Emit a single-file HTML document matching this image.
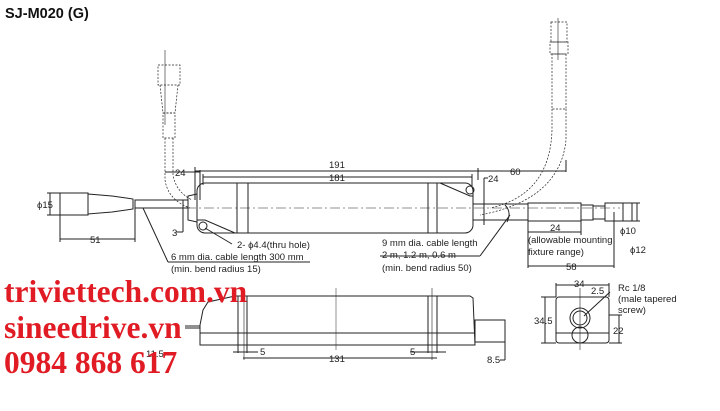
<!DOCTYPE html>
<html><head><meta charset="utf-8"><style>
body{margin:0;background:#fff;width:720px;height:406px;overflow:hidden}
svg text{font-family:"Liberation Sans",sans-serif;font-size:9.5px;fill:#222}
.w{font-family:"Liberation Serif",serif;font-weight:bold;fill:#e01b24;font-size:31.5px}
</style></head><body>
<svg width="720" height="406" viewBox="0 0 720 406" xmlns="http://www.w3.org/2000/svg">
<g stroke="#222" stroke-width="1" fill="none">
<rect x="197" y="183" width="276" height="50" rx="8"/>
<line x1="237" y1="183" x2="237" y2="233"/><line x1="248" y1="183" x2="248" y2="233"/>
<line x1="428" y1="183" x2="428" y2="233"/><line x1="437" y1="183" x2="437" y2="233"/>
<path d="M440 183 L470 196 L473 196"/><circle cx="470" cy="190" r="4"/>
<path d="M197 220 L205 220 L235 233"/><circle cx="203" cy="226" r="4"/>
<line x1="150" y1="208" x2="620" y2="208" stroke-dasharray="10 3 2 3" stroke-width="0.6"/>
<path d="M188 196 L197 194 L197 222 L188 220 Z"/>
<rect x="135" y="200" width="53" height="8"/>
<path d="M88 194 L112 196 L133 199 L133 209 L112 212 L88 214 Z"/>
<rect x="60" y="193" width="28" height="22"/>
<line x1="47" y1="193" x2="60" y2="193"/><line x1="47" y1="215" x2="60" y2="215"/>
<line x1="50" y1="193" x2="50" y2="215"/>
<line x1="60" y1="215" x2="60" y2="242"/><line x1="135" y1="208" x2="135" y2="242"/>
<line x1="60" y1="239" x2="135" y2="239"/>
<line x1="183" y1="200" x2="183" y2="232"/><line x1="176" y1="232" x2="183" y2="232"/>
<line x1="143" y1="208" x2="168" y2="262"/><line x1="168" y1="262" x2="310" y2="262"/>
<line x1="205" y1="228" x2="232" y2="244"/>
<g stroke-dasharray="2 1.5" stroke-width="0.7">
<rect x="158" y="65" width="22" height="20"/><path d="M160 85 L163 113 L175 113 L178 85"/>
<rect x="163" y="113" width="12" height="25"/>
<path d="M165 138 L165 180 Q168 200 190 208"/><path d="M173 138 L173 175 Q176 192 192 200"/>
<rect x="551" y="22" width="16" height="20"/><rect x="550" y="42" width="18" height="12"/>
<rect x="552" y="54" width="14" height="55"/>
<path d="M552 109 L552 130 Q550 195 490 208"/><path d="M566 109 L566 140 Q560 200 480 215"/>
</g>
<line x1="165" y1="50" x2="165" y2="125" stroke-width="0.6"/>
<line x1="558" y1="18" x2="558" y2="60" stroke-width="0.6"/>
<line x1="165" y1="172" x2="200" y2="172"/>
<line x1="195" y1="167" x2="195" y2="200"/><line x1="200" y1="170" x2="200" y2="200"/>
<line x1="195" y1="171" x2="566" y2="171"/><line x1="566" y1="160" x2="566" y2="172"/>
<line x1="203" y1="177" x2="472" y2="177"/><line x1="203" y1="174" x2="203" y2="185"/>
<line x1="472" y1="174" x2="472" y2="186"/><line x1="478" y1="168" x2="478" y2="180"/>
<line x1="484" y1="178" x2="484" y2="225"/><line x1="484" y1="178" x2="488" y2="178"/>
<rect x="473" y="204" width="55" height="16"/>
<path d="M505 205 Q512 212 507 222" />
<rect x="528" y="203" width="53" height="18"/>
<rect x="581" y="205" width="12" height="15"/>
<rect x="593" y="206" width="12" height="13"/><rect x="605" y="203" width="18" height="18"/>
<line x1="623" y1="203" x2="640" y2="203"/><line x1="623" y1="221" x2="640" y2="221"/>
<line x1="632" y1="203" x2="632" y2="221"/><line x1="637" y1="203" x2="637" y2="221"/>
<line x1="528" y1="221" x2="528" y2="268"/><line x1="581" y1="210" x2="581" y2="235"/>
<line x1="528" y1="232" x2="581" y2="232"/><line x1="614" y1="212" x2="614" y2="268"/>
<line x1="528" y1="266" x2="614" y2="266"/>
<line x1="510" y1="215" x2="480" y2="256"/><line x1="380" y1="256" x2="480" y2="256"/>
<path d="M203 310 L208 302 L235 296 L470 296 L473 298 L475 345 L200 345 L200 325 Z"/>
<line x1="200" y1="333" x2="475" y2="333"/>
<line x1="238" y1="296" x2="238" y2="353"/><line x1="247" y1="296" x2="247" y2="353"/>
<line x1="428" y1="296" x2="428" y2="353"/><line x1="437" y1="296" x2="437" y2="353"/>
<line x1="244" y1="288" x2="244" y2="360" stroke-width="0.6"/><line x1="432" y1="288" x2="432" y2="360" stroke-width="0.6"/>
<line x1="336" y1="288" x2="336" y2="350" stroke-width="0.5"/>
<rect x="475" y="320" width="30" height="22"/>
<line x1="185" y1="326" x2="200" y2="326"/><line x1="185" y1="328" x2="200" y2="328"/>
<line x1="233" y1="352" x2="258" y2="352"/><line x1="410" y1="352" x2="446" y2="352"/>
<line x1="243" y1="358" x2="437" y2="358"/>
<line x1="505" y1="335" x2="505" y2="360"/><line x1="500" y1="360" x2="505" y2="360"/>
<rect x="556" y="297" width="53" height="46" rx="3"/>
<line x1="556" y1="333" x2="609" y2="333"/>
<circle cx="580" cy="318" r="10"/><circle cx="580" cy="318" r="7"/>
<circle cx="580" cy="335" r="8"/>
<line x1="580" y1="288" x2="580" y2="350" stroke-width="0.6"/>
<line x1="556" y1="285" x2="609" y2="285"/><line x1="556" y1="283" x2="556" y2="297"/><line x1="609" y1="283" x2="609" y2="297"/>
<line x1="545" y1="297" x2="545" y2="343"/><line x1="541" y1="297" x2="556" y2="297"/><line x1="541" y1="343" x2="556" y2="343"/>
<line x1="619" y1="315" x2="619" y2="343"/><line x1="609" y1="315" x2="622" y2="315"/><line x1="609" y1="343" x2="622" y2="343"/>
<line x1="584" y1="316" x2="610" y2="292"/>
</g>
<text x="5" y="18" style="font-size:14.5px;font-weight:bold;fill:#111">SJ-M020 (G)</text>
<text x="37" y="208">ϕ15</text><text x="90" y="243">51</text>
<text x="172" y="236">3</text><text x="175" y="176">24</text>
<text x="329" y="168">191</text><text x="329" y="181">181</text>
<text x="488" y="182">24</text><text x="510" y="175">60</text>
<text x="237" y="248">2- ϕ4.4(thru hole)</text>
<text x="171" y="260">6 mm dia. cable length 300 mm</text>
<text x="171" y="272">(min. bend radius 15)</text>
<text x="382" y="246">9 mm dia. cable length</text>
<text x="382" y="258">2 m, 1.2 m, 0.6 m</text>
<text x="382" y="271">(min. bend radius 50)</text>
<text x="550" y="231">24</text>
<text x="528" y="243">(allowable mounting</text>
<text x="528" y="255">fixture range)</text>
<text x="566" y="270">58</text>
<text x="620" y="234">ϕ10</text><text x="630" y="253">ϕ12</text>
<text x="260" y="355">5</text><text x="410" y="355">5</text><text x="329" y="362">131</text>
<text x="146" y="357">11.5</text><text x="487" y="363">8.5</text>
<text x="574" y="287">34</text><text x="591" y="294">2.5</text>
<text x="618" y="291">Rc 1/8</text><text x="618" y="302">(male tapered</text><text x="618" y="313">screw)</text>
<text x="534" y="324">34.5</text><text x="613" y="334">22</text>
<text class="w" x="4" y="302">triviettech.com.vn</text>
<text class="w" x="4" y="338">sineedrive.vn</text>
<text class="w" x="4" y="373">0984 868 617</text>
</svg>
</body></html>
